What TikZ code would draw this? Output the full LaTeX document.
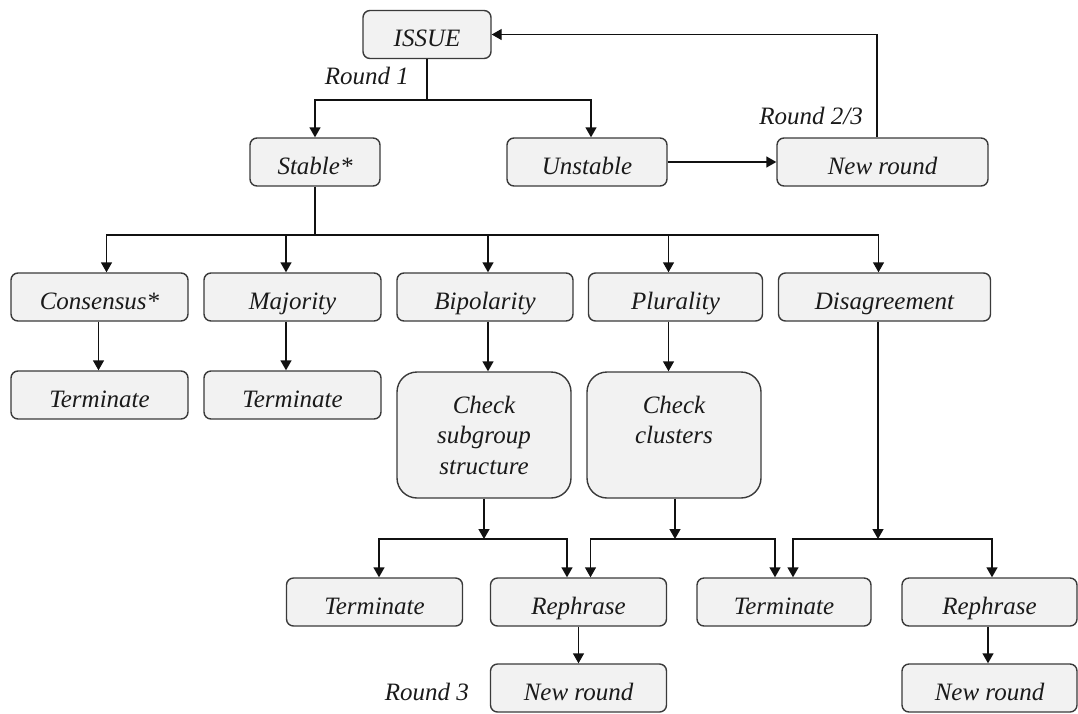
\documentclass[tikz,border=0pt]{standalone}
\usepackage{fontspec}
\setmainfont{Liberation Serif}
\usetikzlibrary{arrows.meta}
\definecolor{boxfill}{HTML}{F2F2F2}
\definecolor{boxline}{HTML}{3A3A3A}
\definecolor{txt}{HTML}{1A1A1A}
\definecolor{wire}{HTML}{111111}
\tikzset{
  basebox/.style={draw=boxline, fill=boxfill, rounded corners=7pt, line width=1.4pt,
    font=\fontsize{25}{30.5}\selectfont\itshape, text=txt, inner sep=0pt,
    align=center},
  box/.style={basebox, text height=24pt, text depth=0pt, minimum height=48pt},
  bigbox/.style={basebox, rounded corners=20pt, minimum width=174pt, minimum height=126pt},
  note/.style={font=\fontsize{25}{30.5}\selectfont\itshape, text=txt, inner sep=0pt},
  wirestyle/.style={draw=wire, line width=1.4pt},
  arr/.style={wirestyle, -{Triangle[length=10pt,width=11pt]}}
}
\begin{document}
\begin{tikzpicture}[x=1pt,y=-1pt]
\useasboundingbox (0,0) rectangle (1078,713);

% first levels
\node[box, minimum width=128pt] (issue) at (427,34.5) {ISSUE};
\node[box, minimum width=130pt] (stable) at (315,162) {Stable*};
\node[box, minimum width=160pt] (unstable) at (587,162) {Unstable};
\node[box, minimum width=211pt] (newtop) at (882.5,162) {New round};

% outcome classes
\node[box, minimum width=177pt] (cons) at (99.5,297) {Consensus*};
\node[box, minimum width=177pt] (maj) at (292.5,297) {Majority};
\node[box, minimum width=176pt] (bip) at (485,297) {Bipolarity};
\node[box, minimum width=174pt] (plu) at (675.5,297) {Plurality};
\node[box, minimum width=212pt] (dis) at (884.5,297) {Disagreement};

\node[box, minimum width=177pt] (term1) at (99.5,395) {Terminate};
\node[box, minimum width=177pt] (term2) at (292.5,395) {Terminate};
\node[bigbox] (chksub) at (484,435) {Check\\subgroup\\structure};
\node[bigbox] (chkclu) at (674,435) {Check\\clusters\\\phantom{structure}};

% final row
\node[box, minimum width=176pt] (term3) at (374.5,602) {Terminate};
\node[box, minimum width=176pt] (reph1) at (578.5,602) {Rephrase};
\node[box, minimum width=174pt] (term4) at (784,602) {Terminate};
\node[box, minimum width=175pt] (reph2) at (989.5,602) {Rephrase};
\node[box, minimum width=176pt] (new1) at (578.5,688) {New round};
\node[box, minimum width=175pt] (new2) at (989.5,688) {New round};

% round labels
\node[note, anchor=east] (r1) at (409,76) {Round 1};
\node[note, anchor=east] (r23) at (863,116) {Round 2/3};
\node[note, anchor=east] (r3) at (469,692) {Round 3};

% junction points
\coordinate (j1) at (427,100);
\coordinate (j2) at (315,235);
\coordinate (j3) at (484,539);
\coordinate (j4) at (675,539);
\coordinate (j5) at (878,539);

% round 1 split
\draw[wirestyle] (issue.south) -- (j1);
\draw[arr] (j1) -| (stable.north);
\draw[arr] (j1) -| ([xshift=4pt]unstable.north);
\draw[arr] (unstable.east) -- (newtop.west);
\draw[arr] ([xshift=-5.5pt]newtop.north) |- (issue.east);

% stable outcomes
\draw[wirestyle] (stable.south) -- (j2);
\draw[arr] (j2) -| ([xshift=7pt]cons.north);
\draw[arr] (j2) -| ([xshift=-6.5pt]maj.north);
\draw[arr] (j2) -| ([xshift=3pt]bip.north);
\draw[arr] (j2) -| ([xshift=-7pt]plu.north);
\draw[arr] (j2) -| ([xshift=-6pt]dis.north);

\draw[arr] ([xshift=-1pt]cons.south) -- ([xshift=-1pt]term1.north);
\draw[arr] ([xshift=-6.5pt]maj.south) -- ([xshift=-6.5pt]term2.north);
\draw[arr] ([xshift=3pt]bip.south) -- ([xshift=3pt]bip.south |- chksub.north);
\draw[arr] ([xshift=-7pt]plu.south) -- ([xshift=-7pt]plu.south |- chkclu.north);

% checks
\draw[arr] (chksub.south) -- (j3);
\draw[arr] (j3) -| ([xshift=4.5pt]term3.north);
\draw[arr] (j3) -| ([xshift=-11.5pt]reph1.north);
\draw[arr] ([xshift=1pt]chkclu.south) -- (j4);
\draw[arr] (j4) -| ([xshift=12pt]reph1.north);
\draw[arr] (j4) -| ([xshift=-9pt]term4.north);
\draw[arr] ([xshift=-6.5pt]dis.south) -- (j5);
\draw[arr] (j5) -| ([xshift=9pt]term4.north);
\draw[arr] (j5) -| ([xshift=2.5pt]reph2.north);

\draw[arr] (reph1.south) -- (new1.north);
\draw[arr] ([xshift=-1.5pt]reph2.south) -- ([xshift=-1.5pt]new2.north);
\end{tikzpicture}
\end{document}
